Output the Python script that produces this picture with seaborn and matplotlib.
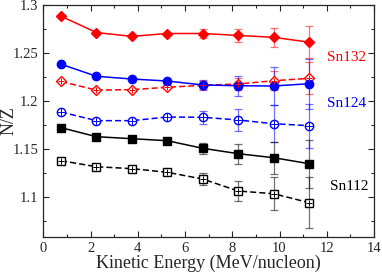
import numpy as np
import pandas as pd
import seaborn as sns
import matplotlib
matplotlib.use('Agg')
import matplotlib.pyplot as plt
from matplotlib.ticker import MultipleLocator, FuncFormatter

# kinetic energy bins (MeV/nucleon)
energy = [0.75, 2.25, 3.75, 5.25, 6.75, 8.25, 9.75, 11.25]

sn132_solid = [1.288, 1.271, 1.267, 1.270, 1.270, 1.268, 1.266, 1.261]
sn132_solid_err = [0, 0, 0, 0, 0.0047, 0.0068, 0.0102, 0.0168]
sn132_open = [1.220, 1.211, 1.2115, 1.214, 1.216, 1.2174, 1.2208, 1.2233]
sn132_open_err = [0, 0, 0, 0, 0.004, 0.006, 0.0100, 0.0167]

sn124_solid = [1.238, 1.2254, 1.2226, 1.2205, 1.2164, 1.2156, 1.2153, 1.2177]
sn124_solid_err = [0, 0, 0, 0, 0.0056, 0.0104, 0.020, 0.026]
sn124_open = [1.1882, 1.1792, 1.1792, 1.183, 1.1827, 1.1799, 1.176, 1.174]
sn124_open_err = [0, 0, 0, 0, 0.007, 0.0115, 0.019, 0.023]

sn112_solid = [1.1719, 1.1625, 1.1604, 1.1583, 1.1504, 1.1448, 1.1406, 1.1344]
sn112_solid_err = [0, 0, 0, 0, 0.0056, 0.0104, 0.0167, 0.025]
sn112_open = [1.1375, 1.1312, 1.1292, 1.1254, 1.1184, 1.1059, 1.1031, 1.0938]
sn112_open_err = [0, 0, 0, 0, 0.006, 0.0104, 0.017, 0.0267]

labels = ['Sn132', 'Sn124', 'Sn112']
colors = ['#ff0000', '#0000ff', '#000000']

series = [
    ('Sn132 solid', sn132_solid, sn132_solid_err, 'red', 'D', True, '-'),
    ('Sn132 open', sn132_open, sn132_open_err, 'red', 'D', False, '--'),
    ('Sn124 solid', sn124_solid, sn124_solid_err, 'blue', 'o', True, '-'),
    ('Sn124 open', sn124_open, sn124_open_err, 'blue', 'o', False, '--'),
    ('Sn112 solid', sn112_solid, sn112_solid_err, 'black', 's', True, '-'),
    ('Sn112 open', sn112_open, sn112_open_err, 'black', 's', False, '--'),
]

rows = []
for name, vals, errs, c, m, filled, ls in series:
    for e, v, err in zip(energy, vals, errs):
        rows.append({'series': name, 'energy': e, 'nz': v, 'err': err})
df = pd.DataFrame(rows)

sns.set_style('ticks')
plt.rcParams['font.family'] = ['Liberation Serif', 'DejaVu Serif']

fig = plt.figure(figsize=(3.82, 2.72), dpi=100)
ax = fig.add_axes([0.1134, 0.1287, 0.8656, 0.854])

sizes = {'D': 5.5, 'o': 6, 's': 5.5}
for name, vals, errs, c, m, filled, ls in series:
    sub = df[df['series'] == name]
    ax.errorbar(sub['energy'], sub['nz'], yerr=sub['err'], fmt='none',
                ecolor=c, elinewidth=0.9, capsize=3, capthick=0.9, alpha=0.55, zorder=2)
    sns.lineplot(data=sub, x='energy', y='nz', ax=ax, color=c, linewidth=1.1,
                 linestyle=ls, marker=m, markersize=sizes[m],
                 markerfacecolor=c if filled else 'white',
                 markeredgecolor=c, markeredgewidth=1.0, zorder=3,
                 errorbar=None, legend=False)
    if not filled:
        ax.plot(sub['energy'], sub['nz'], linestyle='none', marker='+',
                markersize=sizes[m] * 0.85, color=c, markeredgewidth=0.7, zorder=4)
    if ls == '--':
        ax.lines[-2 if not filled else -1].set_dashes([4, 2])

# labels at right side
ax.text(12.0, 1.2455, labels[0], color=colors[0], fontsize=11, va='center', ha='left')
ax.text(12.0, 1.1975, labels[1], color=colors[1], fontsize=11, va='center', ha='left')
ax.text(12.15, 1.111, labels[2], color=colors[2], fontsize=11, va='center', ha='left')

ax.set_xlim(0, 14)
ax.set_ylim(1.058, 1.3)
ax.xaxis.set_major_locator(MultipleLocator(2))
ax.xaxis.set_minor_locator(MultipleLocator(1))
ax.yaxis.set_major_locator(MultipleLocator(0.05))
ax.yaxis.set_minor_locator(MultipleLocator(0.025))
ax.yaxis.set_major_formatter(FuncFormatter(lambda v, p: '%g' % round(v, 3)))
ax.tick_params(which='both', direction='in', top=True, right=True, labelsize=10.5, width=0.8)
ax.tick_params(which='major', length=4)
ax.tick_params(which='minor', length=2)
for sp in ax.spines.values():
    sp.set_linewidth(0.9)

ax.set_xlabel('Kinetic Energy (MeV/nucleon)', fontsize=13, labelpad=0)
ax.set_ylabel('N/Z', fontsize=13)
ax.yaxis.set_label_coords(-0.078, 0.5)

fig.savefig('out.png', dpi=100)
